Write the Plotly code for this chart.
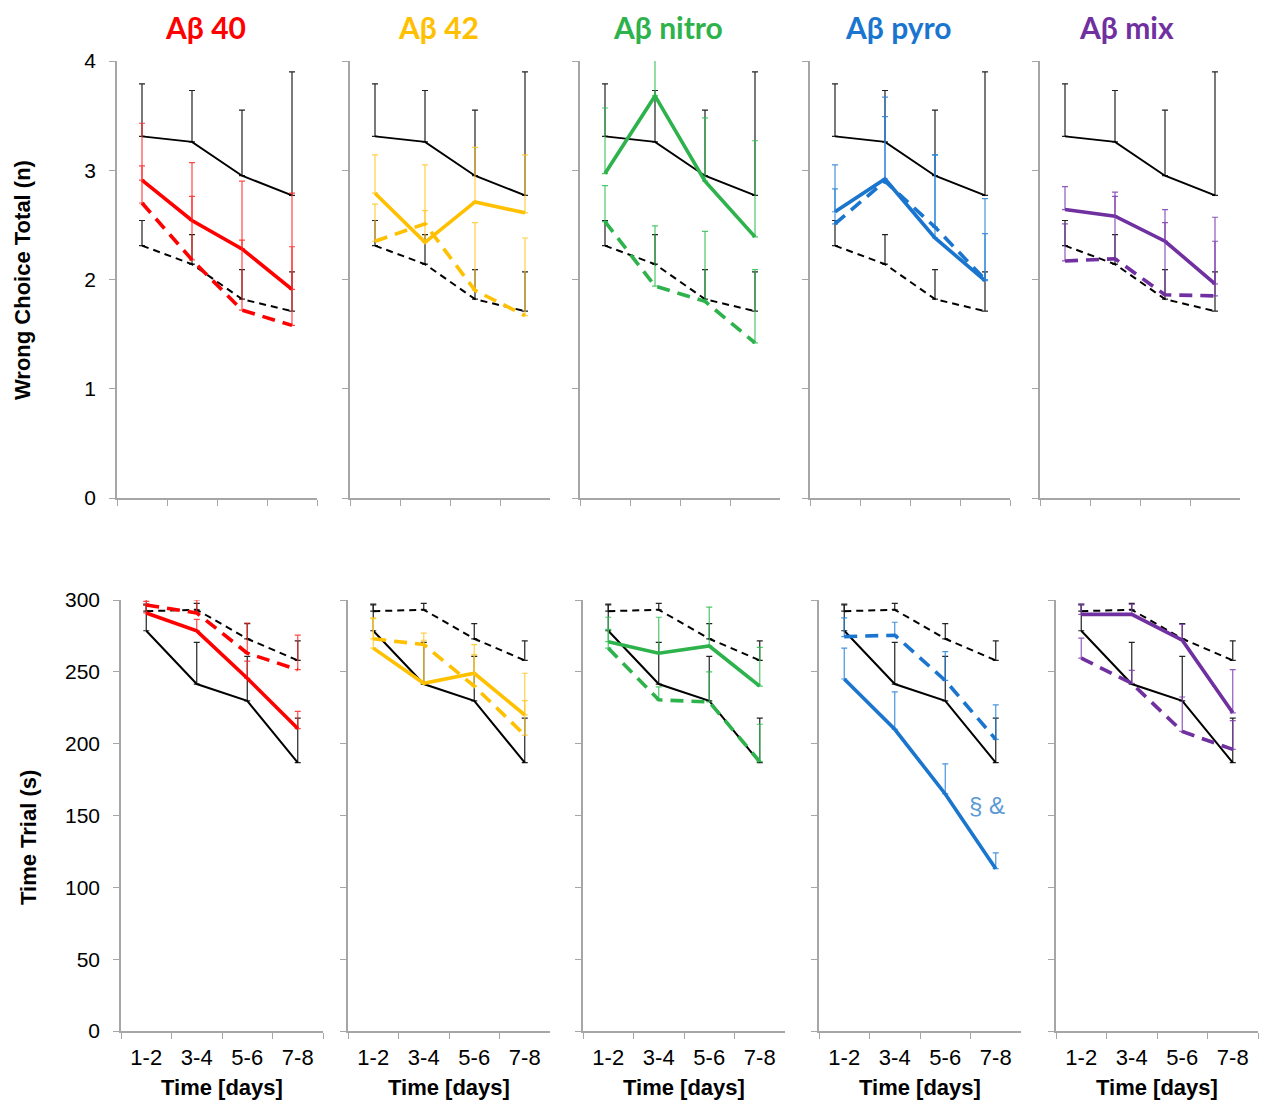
import plotly.graph_objects as go

W, H = 1265, 1102

days = ["1-2", "3-4", "5-6", "7-8"]
groups = ["Aβ 40", "Aβ 42", "Aβ nitro", "Aβ pyro", "Aβ mix"]
colors = ["#FF0000", "#FFC000", "#2DB24C", "#1A75CF", "#7030A0"]
err_colors = ["rgba(255,40,40,0.85)", "rgba(255,200,40,0.85)", "rgba(45,190,80,0.85)",
              "rgba(40,130,215,0.85)", "rgba(125,60,175,0.85)"]

# ---- Wrong Choice Total (n) ----
wc_ctrl_solid = [3.31, 3.26, 2.95, 2.77]
wc_ctrl_solid_err = [0.48, 0.47, 0.60, 1.13]
wc_ctrl_dash = [2.31, 2.14, 1.82, 1.71]
wc_ctrl_dash_err = [0.23, 0.27, 0.27, 0.36]

wc_ab40_solid = [2.91, 2.54, 2.28, 1.91]
wc_ab40_solid_err = [0.52, 0.53, 0.62, 0.88]
wc_ab40_dash = [2.70, 2.18, 1.72, 1.58]
wc_ab40_dash_err = [0.34, 0.58, 0.64, 0.72]

wc_ab42_solid = [2.79, 2.34, 2.71, 2.61]
wc_ab42_solid_err = [0.35, 0.71, 0.50, 0.53]
wc_ab42_dash = [2.35, 2.51, 1.90, 1.67]
wc_ab42_dash_err = [0.34, 0.12, 0.62, 0.71]

wc_nitro_solid = [2.97, 3.68, 2.90, 2.39]
wc_nitro_solid_err = [0.60, 0.45, 0.58, 0.88]
wc_nitro_dash = [2.53, 1.94, 1.80, 1.42]
wc_nitro_dash_err = [0.33, 0.55, 0.64, 0.67]

wc_pyro_solid = [2.62, 2.92, 2.38, 1.99]
wc_pyro_solid_err = [0.43, 0.75, 0.76, 0.75]
wc_pyro_dash = [2.51, 2.90, 2.48, 2.00]
wc_pyro_dash_err = [0.32, 0.59, 0.66, 0.42]

wc_mix_solid = [2.64, 2.58, 2.35, 1.96]
wc_mix_solid_err = [0.21, 0.22, 0.29, 0.61]
wc_mix_dash = [2.17, 2.19, 1.86, 1.85]
wc_mix_dash_err = [0.34, 0.57, 0.66, 0.50]

# ---- Time Trial (s) ----
tt_ctrl_solid = [278.6, 241.5, 229.8, 186.8]
tt_ctrl_solid_err = [18, 29, 31, 31]
tt_ctrl_dash = [292.2, 293.2, 273.0, 258.0]
tt_ctrl_dash_err = [5, 4.5, 10.5, 13.5]

tt_ab40_solid = [291.0, 278.5, 245.5, 210.5]
tt_ab40_solid_err = [8, 8, 12, 12]
tt_ab40_dash = [296.5, 291.0, 263.0, 251.5]
tt_ab40_dash_err = [4, 9, 21, 24]

tt_ab42_solid = [266.5, 242.0, 249.0, 220.0]
tt_ab42_solid_err = [21, 30, 13, 29]
tt_ab42_dash = [273.0, 269.0, 240.0, 206.0]
tt_ab42_dash_err = [14, 8, 29, 24]

tt_nitro_solid = [271.0, 263.0, 268.0, 240.0]
tt_nitro_solid_err = [17, 25, 27, 27]
tt_nitro_dash = [266.5, 230.5, 229.0, 187.5]
tt_nitro_dash_err = [13, 9, 21, 26]

tt_pyro_solid = [245.0, 210.0, 165.0, 113.0]
tt_pyro_solid_err = [21.5, 26, 21, 11]
tt_pyro_dash = [274.5, 275.5, 244.0, 203.0]
tt_pyro_dash_err = [13, 9, 20, 24]

tt_mix_solid = [290.0, 290.0, 272.0, 221.5]
tt_mix_solid_err = [7, 7, 11, 30]
tt_mix_dash = [259.5, 242.0, 208.5, 196.0]
tt_mix_dash_err = [14, 9, 24, 20]

wc_tick_vals = [0, 1, 2, 3, 4]
tt_tick_vals = [0, 50, 100, 150, 200, 250, 300]

top_series = [
    (wc_ab40_solid, wc_ab40_solid_err, wc_ab40_dash, wc_ab40_dash_err),
    (wc_ab42_solid, wc_ab42_solid_err, wc_ab42_dash, wc_ab42_dash_err),
    (wc_nitro_solid, wc_nitro_solid_err, wc_nitro_dash, wc_nitro_dash_err),
    (wc_pyro_solid, wc_pyro_solid_err, wc_pyro_dash, wc_pyro_dash_err),
    (wc_mix_solid, wc_mix_solid_err, wc_mix_dash, wc_mix_dash_err),
]
bot_series = [
    (tt_ab40_solid, tt_ab40_solid_err, tt_ab40_dash, tt_ab40_dash_err),
    (tt_ab42_solid, tt_ab42_solid_err, tt_ab42_dash, tt_ab42_dash_err),
    (tt_nitro_solid, tt_nitro_solid_err, tt_nitro_dash, tt_nitro_dash_err),
    (tt_pyro_solid, tt_pyro_solid_err, tt_pyro_dash, tt_pyro_dash_err),
    (tt_mix_solid, tt_mix_solid_err, tt_mix_dash, tt_mix_dash_err),
]


def px_x(p):
    return p / W


def px_y(p):
    return 1 - p / H


top_x_px = [(117, 317), (350, 550), (580, 780), (810, 1010), (1040, 1240)]
bot_x_px = [(121, 323), (348, 550), (583, 785), (819, 1021), (1056, 1258)]
top_y_px = (61, 498)
bot_y_px = (600, 1031)

AXC = "#A6A6A6"
FONT = "Arial, Liberation Sans, sans-serif"

fig = go.Figure()
layout = {}


def err(arr, color, width=3):
    return dict(type="data", symmetric=False, array=arr, arrayminus=[0] * len(arr),
                color=color, thickness=1.2, width=width)


def add_panel(idx, ctrl, series, color, ecolor):
    xa = "x" if idx == 1 else f"x{idx}"
    ya = "y" if idx == 1 else f"y{idx}"
    cs, cse, cd, cde = ctrl
    s, se, d, de = series
    fig.add_trace(go.Scatter(x=days, y=cs, mode="lines", xaxis=xa, yaxis=ya,
                             line=dict(color="black", width=2),
                             error_y=err(cse, "#222222"), showlegend=False, hoverinfo="skip"))
    fig.add_trace(go.Scatter(x=days, y=cd, mode="lines", xaxis=xa, yaxis=ya,
                             line=dict(color="black", width=2, dash="7px,5px"),
                             error_y=err(cde, "#222222"), showlegend=False, hoverinfo="skip"))
    fig.add_trace(go.Scatter(x=days, y=s, mode="lines", xaxis=xa, yaxis=ya,
                             line=dict(color=color, width=3.6),
                             error_y=err(se, ecolor), showlegend=False, hoverinfo="skip"))
    fig.add_trace(go.Scatter(x=days, y=d, mode="lines", xaxis=xa, yaxis=ya,
                             line=dict(color=color, width=3.6, dash="13px,8px"),
                             error_y=err(de, ecolor), showlegend=False, hoverinfo="skip"))


def xaxis_cfg(dom, anchor, labels):
    return dict(domain=dom, anchor=anchor, type="category", categoryarray=days,
                range=[-0.5, 3.5], showline=True, linecolor=AXC, linewidth=1.5,
                ticks="outside", ticklen=6, tickcolor=AXC, tickwidth=1.2,
                tickson="boundaries", showgrid=False, zeroline=False,
                showticklabels=labels, ticklabelstandoff=6,
                tickfont=dict(family=FONT, size=22, color="black"),
                automargin=False, fixedrange=True)


def yaxis_cfg(dom, anchor, rng, tv, labels):
    return dict(domain=dom, anchor=anchor, range=rng, tickvals=tv,
                showline=True, linecolor=AXC, linewidth=1.5,
                ticks="outside", ticklen=6, tickcolor=AXC, tickwidth=1.2,
                showgrid=False, zeroline=False, showticklabels=labels,
                ticklabelstandoff=9,
                tickfont=dict(family=FONT, size=21, color="black"),
                automargin=False, fixedrange=True)


for i in range(5):
    idx = i + 1
    add_panel(idx, (wc_ctrl_solid, wc_ctrl_solid_err, wc_ctrl_dash, wc_ctrl_dash_err),
              top_series[i], colors[i], err_colors[i])
    xk = "xaxis" if idx == 1 else f"xaxis{idx}"
    yk = "yaxis" if idx == 1 else f"yaxis{idx}"
    layout[xk] = xaxis_cfg([px_x(top_x_px[i][0]), px_x(top_x_px[i][1])],
                           "y" if idx == 1 else f"y{idx}", False)
    layout[yk] = yaxis_cfg([px_y(top_y_px[1]), px_y(top_y_px[0])],
                           "x" if idx == 1 else f"x{idx}", [0, 4], wc_tick_vals, i == 0)
    idx = i + 6
    add_panel(idx, (tt_ctrl_solid, tt_ctrl_solid_err, tt_ctrl_dash, tt_ctrl_dash_err),
              bot_series[i], colors[i], err_colors[i])
    layout[f"xaxis{idx}"] = xaxis_cfg([px_x(bot_x_px[i][0]), px_x(bot_x_px[i][1])],
                                      f"y{idx}", True)
    layout[f"yaxis{idx}"] = yaxis_cfg([px_y(bot_y_px[1]), px_y(bot_y_px[0])],
                                      f"x{idx}", [0, 300], tt_tick_vals, i == 0)

annotations = []
title_cx = [205, 438, 668, 898, 1126]
for i in range(5):
    annotations.append(dict(text=f"<b>{groups[i]}</b>", x=px_x(title_cx[i]), y=px_y(27),
                            xref="paper", yref="paper", xanchor="center", yanchor="middle",
                            showarrow=False,
                            font=dict(family="Lato, Noto Sans, sans-serif", size=30, color=colors[i])))
    cx = (bot_x_px[i][0] + bot_x_px[i][1]) / 2
    annotations.append(dict(text="<b>Time [days]</b>", x=px_x(cx), y=px_y(1087),
                            xref="paper", yref="paper", xanchor="center", yanchor="middle",
                            showarrow=False, font=dict(family=FONT, size=22, color="black")))

annotations.append(dict(text="<b>Wrong Choice Total (n)</b>", x=px_x(22), y=px_y(280),
                        xref="paper", yref="paper", xanchor="center", yanchor="middle",
                        textangle=-90, showarrow=False, font=dict(family=FONT, size=22, color="black")))
annotations.append(dict(text="<b>Time Trial (s)</b>", x=px_x(28), y=px_y(838),
                        xref="paper", yref="paper", xanchor="center", yanchor="middle",
                        textangle=-90, showarrow=False, font=dict(family=FONT, size=22, color="black")))
annotations.append(dict(text="§ &", x=2.83, y=157, xref="x9", yref="y9",
                        xanchor="center", yanchor="middle", showarrow=False,
                        font=dict(family=FONT, size=24, color="#5B9BD5")))

layout.update(dict(width=W, height=H, margin=dict(l=0, r=0, t=0, b=0, pad=0, autoexpand=False),
                   paper_bgcolor="white", plot_bgcolor="white", showlegend=False,
                   annotations=annotations, font=dict(family=FONT)))
fig.update_layout(**layout)
fig.write_html("out.html")
